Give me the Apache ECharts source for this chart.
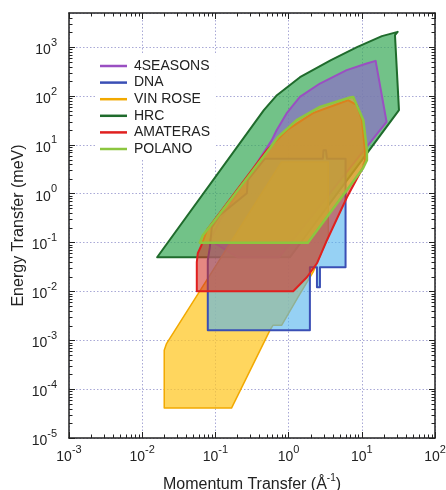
<!DOCTYPE html>
<html>
<head>
<meta charset="utf-8">
<script src="https://cdn.jsdelivr.net/npm/echarts@6/dist/echarts.min.js"></script>
<style>html,body{margin:0;padding:0;background:#fff}#c{width:446px;height:490px}</style>
</head>
<body>
<div id="c"></div>
<script>
// Instrument coverage polygons: [Q (1/Å), E (meV)]
const instruments = ['4SEASONS', 'DNA', 'VIN ROSE', 'HRC', 'AMATERAS', 'POLANO'];
const hrc = [[0.016,0.05],[1.04,0.05],[32.2,51.3],[28.4,1758],[30.9,2056],[18.8,1679],[8.59,1000],[3.79,541],[1.43,243],[0.692,104],[0.459,51.3]];
const fourSeasons = [[0.203,0.05],[0.736,0.05],[11.65,9.09],[21.8,29.5],[15.45,524],[11.65,463],[6.21,338],[2.68,180],[1.426,95.9],[0.938,43.9],[0.686,19.95],[0.59,12.5],[0.115,0.287],[0.084,0.1117]];
const vinRose = [[0.02,4.1e-5],[0.166,4.1e-5],[0.555,0.0016],[0.61,0.00203],[0.802,0.00203],[1.352,0.0077],[2.17,0.0251],[3.48,0.1285],[3.48,4.48],[0.802,4.48],[0.0215,0.000857],[0.02,0.000625]];
const dna = [[0.0787,0.0016],[1.954,0.0016],[1.954,0.0313],[2.44,0.0313],[2.44,0.0122],[2.68,0.0122],[2.68,0.0313],[6.0,0.0313],[6.0,5.21],[3.34,5.21],[3.24,7.78],[3.0,7.78],[2.94,5.21],[0.474,5.21],[0.277,1.89],[0.269,1.02],[0.115,0.363],[0.0893,0.206],[0.084,0.0804],[0.0787,0.0434]];
const amateras = [[0.0557,0.0101],[1.155,0.0101],[1.777,0.0195],[2.44,0.0377],[3.34,0.1117],[6.27,0.848],[10.4,3.49],[11.04,4.85],[11.04,7.78],[10.05,32.0],[8.59,64.9],[6.47,82.1],[2.15,44.5],[0.946,19.95],[0.505,7.78],[0.0764,0.179],[0.0645,0.0883],[0.0575,0.0605],[0.0557,0.04]];
const polano = [[0.0612,0.0993],[1.835,0.0993],[10.4,3.33],[11.75,4.85],[11.75,7.78],[10.5,32.0],[7.64,95.9],[6.89,93.3],[2.68,59.9],[1.286,32.0],[0.719,14.6],[0.555,8.55],[0.0982,0.287],[0.0673,0.141]];

const xMin = 1e-3, xMax = 1e2, yMin = 1e-5, yMax = 5000;

// minor tick values (axis decoration)
const xMinor = [], yMinor = [];
for (let e = -3; e < 2; e++) for (let k = 2; k <= 9; k++) xMinor.push(k * Math.pow(10, e));
for (let e = -5; e <= 3; e++) for (let k = 2; k <= 9; k++) { const v = k * Math.pow(10, e); if (v < yMax) yMinor.push(v); }

const FONT = '"Liberation Sans", Arial, sans-serif';

function supLabel(v) {
  const e = Math.log10(v), r = Math.round(e);
  if (Math.abs(e - r) > 1e-6) return '';
  return '{b|10}{s|' + r + '}';
}
const labelRich = {
  b: { fontSize: 14, fontFamily: FONT, color: '#222', lineHeight: 20, verticalAlign: 'bottom' },
  s: { fontSize: 11, fontFamily: FONT, color: '#222', lineHeight: 20, verticalAlign: 'top' }
};

function polySeries(name, pts, stroke, fill, lw) {
  return {
    type: 'custom', name: name, xAxisIndex: 0, yAxisIndex: 0,
    data: pts, encode: { x: 0, y: 1 }, silent: true, clip: false,
    itemStyle: { color: stroke },
    renderItem: function (params, api) {
      if (params.dataIndex !== 0) return null;
      const p = pts.map(q => api.coord(q));
      return { type: 'polygon', shape: { points: p }, style: { fill: fill, stroke: stroke, lineWidth: lw, lineJoin: 'round' } };
    }
  };
}

const tickData = xMinor.map(v => [v, 1, 0]).concat(yMinor.map(v => [1, v, 1]));
const tickSeries = {
  type: 'custom', name: 'minorTicks', xAxisIndex: 0, yAxisIndex: 0, z: 10, silent: true,
  data: tickData, encode: { x: 0, y: 1 },
  renderItem: function (params, api) {
    const cs = params.coordSys, kind = api.value(2), L = 3.5;
    const st = { stroke: '#222', lineWidth: 1 };
    if (kind === 0) {
      const x = Math.round(api.coord([api.value(0), 1])[0]) + 0.5;
      return { type: 'group', children: [
        { type: 'line', shape: { x1: x, y1: cs.y + cs.height, x2: x, y2: cs.y + cs.height - L }, style: st },
        { type: 'line', shape: { x1: x, y1: cs.y, x2: x, y2: cs.y + L }, style: st }
      ]};
    } else {
      const y = Math.round(api.coord([1, api.value(1)])[1]) + 0.5;
      return { type: 'group', children: [
        { type: 'line', shape: { x1: cs.x, y1: y, x2: cs.x + L, y2: y }, style: st },
        { type: 'line', shape: { x1: cs.x + cs.width, y1: y, x2: cs.x + cs.width - L, y2: y }, style: st }
      ]};
    }
  }
};

const axisLineStyle = { color: '#222', width: 1.5 };
const gridLine = { show: true, lineStyle: { color: '#a9a9d6', type: [1.5, 2], width: 1 } };

const option = {
  animation: false,
  backgroundColor: '#fff',
  grid: { left: 69, right: 11, top: 13, bottom: 52, containLabel: false, outerBoundsMode: 'none' },
  legend: {
    data: instruments, orient: 'vertical', left: 95, top: 55,
    padding: [4, 6, 3, 5], backgroundColor: '#fff',
    icon: 'rect', itemWidth: 27, itemHeight: 2.5, itemGap: 2.6, selectedMode: false,
    textStyle: { fontSize: 14, fontFamily: FONT, color: '#222', lineHeight: 14, padding: [0, 0, 0, 2] }
  },
  xAxis: [
    { type: 'log', logBase: 10, min: xMin, max: xMax, position: 'bottom',
      name: '{n|Momentum Transfer (Å}{s|-1}{n|)}', nameLocation: 'middle', nameGap: 35, nameMoveOverlap: false,
      nameTextStyle: { rich: {
        n: { fontSize: 16, fontFamily: FONT, color: '#222', lineHeight: 20, verticalAlign: 'bottom' },
        s: { fontSize: 10, fontFamily: FONT, color: '#222', lineHeight: 20, verticalAlign: 'top' } } },
      axisLine: { show: true, lineStyle: axisLineStyle },
      axisTick: { show: true, inside: true, length: 6, lineStyle: { color: '#222' } },
      axisLabel: { formatter: supLabel, rich: labelRich, margin: 6, showMinLabel: true, showMaxLabel: true },
      splitLine: gridLine, minorTick: { show: false } },
    { type: 'log', logBase: 10, min: xMin, max: xMax, position: 'top',
      axisLine: { show: true, lineStyle: axisLineStyle },
      axisTick: { show: true, inside: true, length: 6, lineStyle: { color: '#222' } },
      axisLabel: { show: false }, splitLine: { show: false } }
  ],
  yAxis: [
    { type: 'log', logBase: 10, min: yMin, max: yMax, position: 'left',
      name: 'Energy Transfer (meV)', nameLocation: 'middle', nameGap: 42, nameMoveOverlap: false,
      nameTextStyle: { fontSize: 16, fontFamily: FONT, color: '#222' },
      axisLine: { show: true, lineStyle: axisLineStyle },
      axisTick: { show: true, inside: true, length: 6, lineStyle: { color: '#222' } },
      axisLabel: { formatter: supLabel, rich: labelRich, margin: 12, showMaxLabel: false },
      splitLine: gridLine },
    { type: 'log', logBase: 10, min: yMin, max: yMax, position: 'right',
      axisLine: { show: true, lineStyle: axisLineStyle },
      axisTick: { show: true, inside: true, length: 6, lineStyle: { color: '#222' } },
      axisLabel: { show: false }, splitLine: { show: false } }
  ],
  series: [
    polySeries('HRC', hrc, '#1f6b2c', 'rgba(60,170,90,0.72)', 2),
    polySeries('4SEASONS', fourSeasons, '#9a4fc2', 'rgba(140,110,200,0.7)', 2),
    polySeries('VIN ROSE', vinRose, '#f2a900', 'rgba(255,200,40,0.75)', 1.5),
    polySeries('DNA', dna, '#3a4fb5', 'rgba(85,180,238,0.62)', 2),
    polySeries('AMATERAS', amateras, '#e0201f', 'rgba(210,50,40,0.58)', 2),
    polySeries('POLANO', polano, '#8cc63f', 'rgba(215,195,30,0.6)', 2.5),
    tickSeries
  ]
};

const chart = echarts.init(document.getElementById('c'), null, { renderer: 'canvas' });
chart.setOption(option);
</script>
</body>
</html>
